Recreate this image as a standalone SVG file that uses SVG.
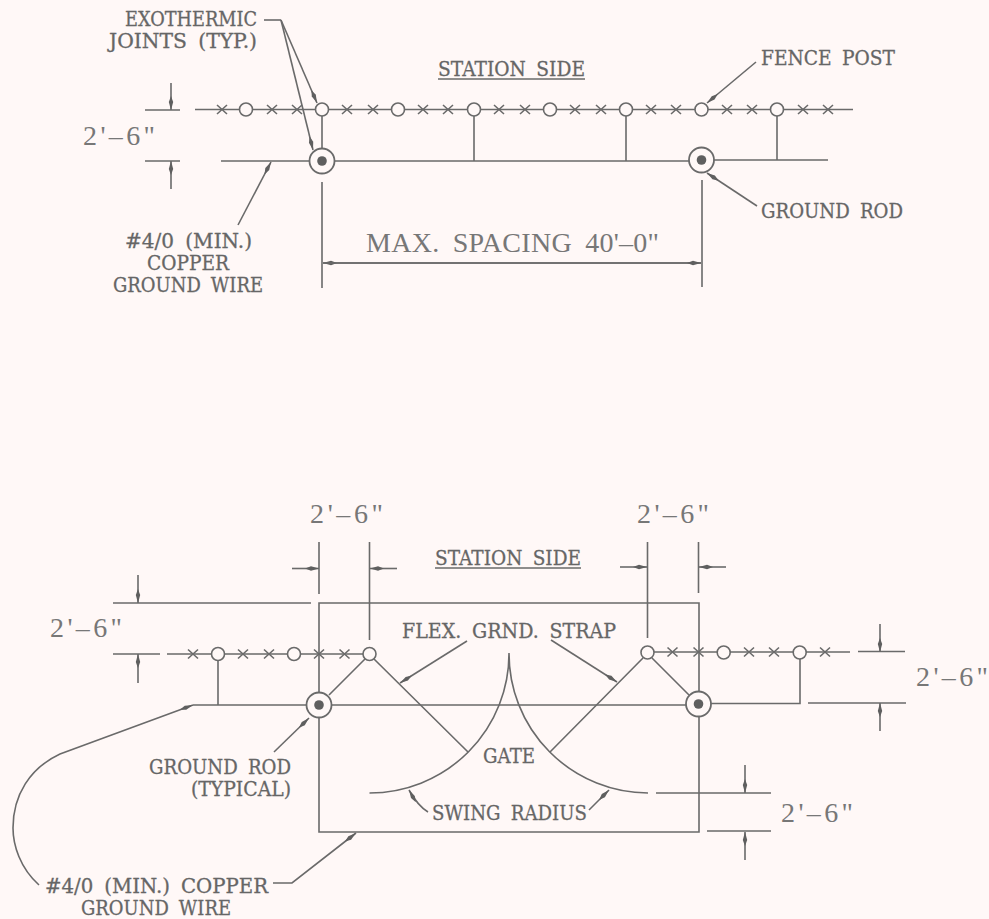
<svg xmlns="http://www.w3.org/2000/svg" width="989" height="919" viewBox="0 0 989 919">
<style>
.l{fill:none;stroke:#6a6a6a;stroke-width:1.6}
.a{marker-end:url(#ah)}
.p{fill:#fff8f7;stroke:#6a6a6a;stroke-width:1.6}
.rod{fill:#fff8f7;stroke:#6a6a6a;stroke-width:1.8}
.dot{fill:#5f5f5f}
.t{font-family:"DejaVu Serif","Liberation Serif",serif;font-size:20.5px;word-spacing:5px;fill:#666;stroke:#666;stroke-width:.3}
.d{font-family:"Liberation Serif","DejaVu Serif",serif;font-size:28px;word-spacing:6px;fill:#777}
</style>
<defs>
<marker id="ah" markerUnits="userSpaceOnUse" markerWidth="16" markerHeight="6" refX="14" refY="3" orient="auto">
<path d="M0,3 L6,.8 L14,3 L6,5.2 Z" fill="#5f5f5f"/>
</marker>
<g id="x"><path class="l" d="M-5,-4.5 L5,4.5 M-5,4.5 L5,-4.5"/></g>
<g id="post"><circle class="p" r="6.5"/></g>
<g id="groundrod"><circle class="rod" r="12.5"/><circle class="dot" r="4.8"/></g>
</defs>
<rect width="989" height="919" fill="#fff8f7"/>

<g id="connectors">
<!-- top detail -->
<path class="l" d="M195,109.5 H853"/>
<path class="l" d="M221,161 H310 M334,161 H689 M714,160 H828"/>
<path class="l" d="M322,116 V149 M474,116 V161 M626,116 V161 M777,116 V160"/>
<path class="l" d="M145,110 H180 M145,161 H180"/>
<path class="l a" d="M171,83 V110"/>
<path class="l a" d="M171,189 V161"/>
<path class="l" d="M322,182 V288 M702,180 V287"/>
<path class="l a" d="M701,263 H323"/>
<path class="l a" d="M323,263 H701"/>
<path class="l" d="M264,20 H281"/>
<path class="l a" d="M281,20 L317,103"/>
<path class="l a" d="M281,20 L313,150"/>
<path class="l a" d="M756,62 L707,103"/>
<path class="l a" d="M757,206 L707,173"/>
<path class="l a" d="M238,225 L271,162"/>
<!-- bottom detail -->
<path class="l" d="M319,603 H699 V832 H319 Z"/>
<path class="l" d="M113,603 H311"/>
<path class="l" d="M167,654 H363 M654,652 H850"/>
<path class="l" d="M113,654 H160 M858,651.500 H905"/>
<path class="l" d="M193,705 H307 M331,705 H686 M711,703.500 H800 V659"/>
<path class="l" d="M218,661 V705"/>
<path class="l" d="M808,703 H906"/>
<path class="l a" d="M138,575 V603"/>
<path class="l a" d="M138,683 V654"/>
<path class="l a" d="M880,624 V652"/>
<path class="l a" d="M880,731 V703"/>
<path class="l" d="M656,793 H771 M707,831 H771"/>
<path class="l a" d="M745,765 V793"/>
<path class="l a" d="M745,860 V832"/>
<path class="l" d="M319,542 V594 M369.500,542 V640 M647.500,542 V638 M698.500,542 V593"/>
<path class="l a" d="M292,568.500 H319"/>
<path class="l a" d="M397,568.500 H370"/>
<path class="l a" d="M620,567 H647"/>
<path class="l a" d="M726,567 H699"/>
<path class="l" d="M369.500,793 A139.500,139.500 0 0 0 509,653 A139.500,139.500 0 0 0 648,793"/>
<path class="l" d="M365,659 L329,695 M374,659 L468,752 M643,658 L550,752 M652,658 L689,695"/>
<path class="l a" d="M467,641 L400,683"/>
<path class="l a" d="M551,640 L617,682"/>
<path class="l a" d="M274,752 L309,718"/>
<path class="l a" d="M428,812 Q418,806 409,790"/>
<path class="l a" d="M589,810 L609,790"/>
<path class="l a" d="M39,885 C20,868 13,845 13,828 C13,795 30,768 60,754 L193,705"/>
<path class="l a" d="M273,883 H292 L356,833"/>
<!-- underlines -->
<path class="l" d="M438,79 H585 M435,568 H581"/>
</g>

<g id="top-fence-ticks">
<use href="#x" x="222" y="109.500"/><use href="#x" x="272" y="109.500"/><use href="#x" x="297" y="109.500"/><use href="#x" x="347" y="109.500"/><use href="#x" x="373" y="109.500"/><use href="#x" x="423" y="109.500"/><use href="#x" x="448" y="109.500"/><use href="#x" x="499" y="109.500"/><use href="#x" x="525" y="109.500"/><use href="#x" x="575" y="109.500"/><use href="#x" x="601" y="109.500"/><use href="#x" x="651" y="109.500"/><use href="#x" x="676" y="109.500"/><use href="#x" x="727" y="109.500"/><use href="#x" x="752" y="109.500"/><use href="#x" x="803" y="109.500"/><use href="#x" x="828" y="109.500"/>
</g>
<g id="top-fence-posts">
<use href="#post" x="246" y="109.500"/><use href="#post" x="322" y="109.500"/><use href="#post" x="398" y="109.500"/><use href="#post" x="474" y="109.500"/><use href="#post" x="550" y="109.500"/><use href="#post" x="626" y="109.500"/><use href="#post" x="701.500" y="109.500"/><use href="#post" x="777" y="109.500"/>
</g>
<g id="top-rod-left"><use href="#groundrod" x="322" y="161"/></g>
<g id="top-rod-right"><use href="#groundrod" x="701.500" y="160"/></g>

<g id="bottom-fence-ticks">
<use href="#x" x="193" y="654"/><use href="#x" x="243" y="654"/><use href="#x" x="269" y="654"/><use href="#x" x="319" y="654"/><use href="#x" x="344.500" y="654"/><use href="#x" x="672.500" y="652"/><use href="#x" x="698.500" y="652"/><use href="#x" x="749" y="652"/><use href="#x" x="774" y="652"/><use href="#x" x="825" y="652"/>
</g>
<g id="bottom-fence-posts">
<use href="#post" x="218" y="654"/><use href="#post" x="294" y="654"/><use href="#post" x="369.500" y="654"/><use href="#post" x="647.500" y="652.500"/><use href="#post" x="723.700" y="652.500"/><use href="#post" x="799.700" y="652.500"/>
</g>
<g id="bottom-rod-left"><use href="#groundrod" x="319" y="705"/></g>
<g id="bottom-rod-right"><use href="#groundrod" x="698.500" y="704"/></g>

<g id="labels">
<text class="t" x="125" y="26" textLength="132" lengthAdjust="spacingAndGlyphs">EXOTHERMIC</text>
<text class="t" x="109" y="48" textLength="148" lengthAdjust="spacingAndGlyphs">JOINTS (TYP.)</text>
<text class="t" x="438" y="76" textLength="147" lengthAdjust="spacingAndGlyphs">STATION SIDE</text>
<text class="t" x="761" y="65" textLength="134" lengthAdjust="spacingAndGlyphs">FENCE POST</text>
<text class="t" x="761" y="218" textLength="142" lengthAdjust="spacingAndGlyphs">GROUND ROD</text>
<text class="t" x="125" y="247.500" textLength="127" lengthAdjust="spacingAndGlyphs">#4/0 (MIN.)</text>
<text class="t" x="147" y="269.500" textLength="82" lengthAdjust="spacingAndGlyphs">COPPER</text>
<text class="t" x="113" y="291.500" textLength="150" lengthAdjust="spacingAndGlyphs">GROUND WIRE</text>
<text class="d" x="83" y="145" textLength="72" lengthAdjust="spacing">2'–6"</text>
<text class="d" x="366" y="252" textLength="293" lengthAdjust="spacing">MAX. SPACING 40'–0"</text>

<text class="d" x="310" y="523" textLength="73" lengthAdjust="spacing">2'–6"</text>
<text class="d" x="637" y="523" textLength="72" lengthAdjust="spacing">2'–6"</text>
<text class="t" x="435" y="565" textLength="146" lengthAdjust="spacingAndGlyphs">STATION SIDE</text>
<text class="d" x="50" y="637" textLength="72" lengthAdjust="spacing">2'–6"</text>
<text class="t" x="402" y="638" textLength="214" lengthAdjust="spacingAndGlyphs">FLEX. GRND. STRAP</text>
<text class="d" x="916" y="686" textLength="72" lengthAdjust="spacing">2'–6"</text>
<text class="t" x="483" y="763" textLength="52" lengthAdjust="spacingAndGlyphs">GATE</text>
<text class="t" x="149" y="774" textLength="142" lengthAdjust="spacingAndGlyphs">GROUND ROD</text>
<text class="t" x="191" y="796" textLength="100" lengthAdjust="spacingAndGlyphs">(TYPICAL)</text>
<text class="t" x="432" y="820" textLength="155" lengthAdjust="spacingAndGlyphs">SWING RADIUS</text>
<text class="d" x="781" y="822" textLength="72" lengthAdjust="spacing">2'–6"</text>
<text class="t" x="45" y="893" textLength="223" lengthAdjust="spacingAndGlyphs">#4/0 (MIN.) COPPER</text>
<text class="t" x="81" y="915" textLength="150" lengthAdjust="spacingAndGlyphs">GROUND WIRE</text>
</g>
</svg>
